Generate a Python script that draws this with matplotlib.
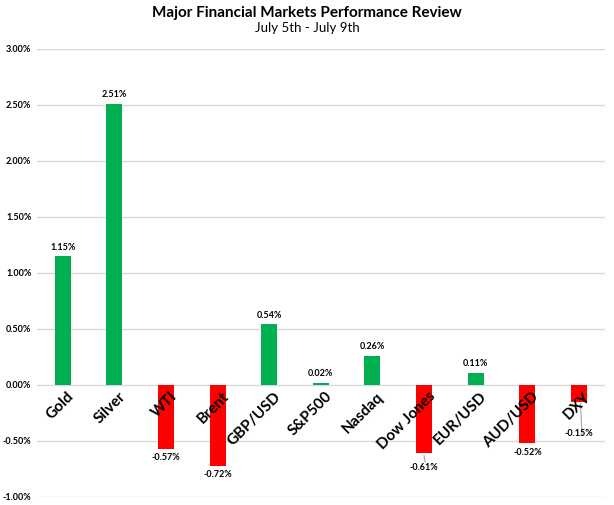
import numpy as np
import matplotlib.pyplot as plt

plt.rcParams['font.family'] = ['Lato', 'DejaVu Sans']

# data
categories = ['Gold', 'Silver', 'WTI', 'Brent', 'GBP/USD', 'S&P500', 'Nasdaq',
              'Dow Jones', 'EUR/USD', 'AUD/USD', 'DXY']
changes = [1.15, 2.51, -0.57, -0.72, 0.54, 0.02, 0.26, -0.61, 0.11, -0.52, -0.15]
yticks = [-1.0, -0.5, 0.0, 0.5, 1.0, 1.5, 2.0, 2.5, 3.0]

fig = plt.figure(figsize=(6.14, 5.05), dpi=100)
ax = fig.add_axes([0.060, 0.016, 0.925, 0.887])

x = np.arange(len(categories))
colors = ['#00B050' if v >= 0 else '#FF0000' for v in changes]
ax.bar(x, changes, width=0.31, color=colors, zorder=3)

ax.set_xlim(-0.5, len(categories) - 0.5)
ax.set_ylim(-1.0, 3.0)
ax.set_yticks(yticks)
ax.set_yticklabels([f'{t:.2f}%' for t in yticks], fontsize=6.5, fontweight='bold')
ax.tick_params(axis='y', length=0, pad=4)
ax.set_xticks([])
ax.grid(axis='y', color='#d9d9d9', linewidth=1, zorder=0)
for s in ax.spines.values():
    s.set_visible(False)

# category labels along the zero line
for i, c in enumerate(categories):
    ax.text(i + 0.08, -0.04, c, rotation=45, rotation_mode='anchor',
            ha='right', va='top', fontsize=11, fontweight='bold', zorder=4)

# data labels
for i, v in enumerate(changes):
    if v >= 0:
        ax.text(i, v + 0.04, f'{v:.2f}%', ha='center', va='bottom',
                fontsize=6.5, fontweight='bold')
    elif categories[i] == 'Dow Jones':
        ax.plot([i, i + 0.02], [v - 0.02, v - 0.08], color='#a6a6a6', lw=0.8)
        ax.text(i, v - 0.09, f'{v:.2f}%', ha='center', va='top',
                fontsize=6.5, fontweight='bold')
    elif categories[i] == 'DXY':
        ax.plot([i + 0.03, i + 0.06], [v - 0.02, v - 0.3], color='#a6a6a6', lw=0.8)
        ax.text(i, v - 0.24, f'{v:.2f}%', ha='center', va='top',
                fontsize=6.5, fontweight='bold')
    else:
        ax.text(i, v - 0.04, f'{v:.2f}%', ha='center', va='top',
                fontsize=6.5, fontweight='bold')

fig.text(0.5, 0.974, 'Major Financial Markets Performance Review', ha='center',
         va='center', fontsize=11, fontweight='bold')
fig.text(0.5, 0.944, 'July 5th - July 9th', ha='center', va='center', fontsize=9.5)

fig.savefig('out.png', dpi=100)
